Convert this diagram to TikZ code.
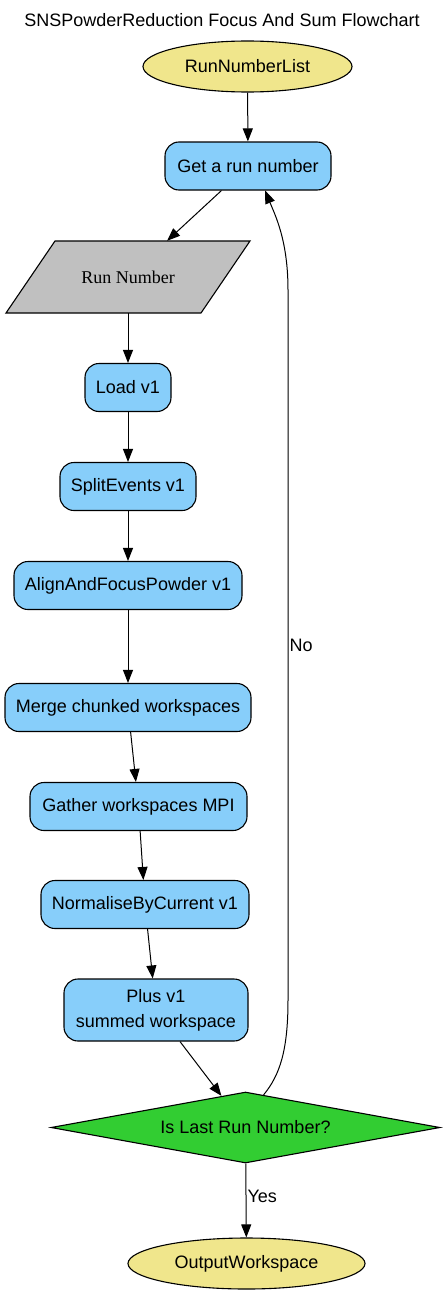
\documentclass[tikz,border=0pt]{standalone}
\usepackage{fontspec}
\setmainfont{Liberation Sans}
\newfontfamily\timesfont{Liberation Serif}
\usetikzlibrary{shapes.geometric,arrows.meta}
\definecolor{algblue}{HTML}{87CEFA}
\definecolor{wskhaki}{HTML}{F0E68C}
\definecolor{rungrey}{HTML}{C0C0C0}
\definecolor{decgreen}{HTML}{32CD32}
\tikzset{
  every node/.style={font=\fontsize{18}{25}\selectfont},
  algbox/.style={draw, line width=1.1pt, rounded corners=14pt, fill=algblue, minimum height=48pt, inner sep=0pt, align=center},
  wsnode/.style={draw, line width=1.1pt, ellipse, fill=wskhaki, minimum height=51pt, inner sep=0pt},
  flow/.style={->, line width=1pt, >={Triangle[length=13pt,width=10pt]}}
}

\begin{document}
\begin{tikzpicture}[x=1pt, y=-1pt]
            \useasboundingbox (0,0) rectangle (445,1295);
            \node (title) at (222,20) {SNSPowderReduction Focus And Sum Flowchart};
            \node[wsnode, minimum width=209pt] (runlist) at (247.5,66.5) {RunNumberList};
            \node[algbox, minimum width=166pt] (getrun) at (248,166) {Get a run number};
            % parallelogram for the run number
            \draw[line width=1.1pt, fill=rungrey] (55,241) -- (250,241) -- (201,313) -- (6,313) -- cycle;
            \node[minimum width=195pt, minimum height=72pt, inner sep=0pt, font=\timesfont\fontsize{18}{20}\selectfont] (runnum) at (128,277) {Run Number};
            \node[algbox, minimum width=86pt] (load) at (128,387.5) {Load v1};
            \node[algbox, minimum width=136pt] (split) at (128,486.5) {SplitEvents v1};
            \node[algbox, minimum width=228pt] (align) at (128,585.5) {AlignAndFocusPowder v1};
            \node[algbox, minimum width=246pt] (merge) at (128,707.5) {Merge chunked workspaces};
            \node[algbox, minimum width=217pt] (gather) at (138.5,806.5) {Gather workspaces MPI};
            \node[algbox, minimum width=208pt] (norm) at (145,904.5) {NormaliseByCurrent v1};
            \node[algbox, minimum width=184pt, minimum height=62pt] (plus) at (156,1010) {Plus v1\\summed workspace};
            \node[draw, line width=1.1pt, diamond, aspect=5.48, fill=decgreen, minimum width=389pt, minimum height=71pt, inner sep=0pt] (islast) at (245.5,1127.5) {Is Last Run Number?};
            \node[wsnode, minimum width=237pt] (outws) at (246.5,1263.5) {OutputWorkspace};
            % main chain
            \draw[flow] (runlist) -- (getrun);
            \draw[flow] (getrun) -- (runnum);
            \draw[flow] (runnum) -- (load);
            \draw[flow] (load) -- (split);
            \draw[flow] (split) -- (align);
            \draw[flow] (align) -- (merge);
            \draw[flow] (merge) -- (gather);
            \draw[flow] (gather) -- (norm);
            \draw[flow] (norm) -- (plus);
            \draw[flow] (plus) -- (islast);
            % loop back
            \draw[flow] (islast.61) .. controls (280,1075) and (288,1050) .. (288,1000) -- (288,290) node[pos=0.5, right, inner sep=1pt] {No} .. controls (288,240) and (275,215) .. (getrun.-55);
            \draw[flow] (islast) -- (outws) node[pos=0.45, right, inner sep=1pt] {Yes};
        \end{tikzpicture}
\end{document}
